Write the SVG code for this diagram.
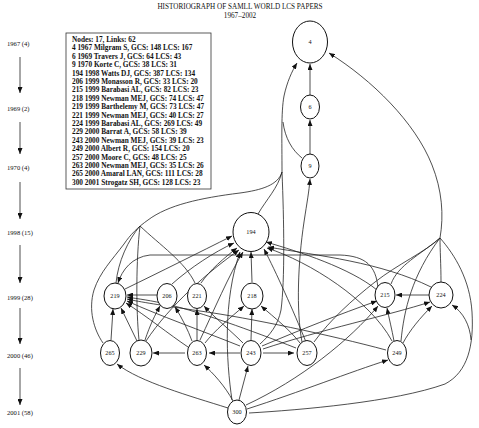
<svg xmlns="http://www.w3.org/2000/svg" width="479" height="428" viewBox="0 0 479 428">
<style>
text{font-family:"Liberation Serif","Times New Roman",serif;fill:#111}
.t{font-size:7.2px;text-anchor:middle}
.ax{font-size:6.6px}
.lg{font-size:7.3px;font-weight:bold}
.nd ellipse{fill:#fff;stroke:#111;stroke-width:1}
.nd text{font-size:6.2px;text-anchor:middle}
.e path{fill:none;stroke:#222;stroke-width:0.8}
.a{marker-end:url(#ah)}
</style>
<defs>
<marker id="ah" markerUnits="userSpaceOnUse" markerWidth="6" markerHeight="5" refX="6" refY="2.5" orient="auto">
<path d="M0,0 L6,2.5 L0,5 z" fill="#111"/>
</marker>
</defs>
<rect width="479" height="428" fill="#fff"/>
<text class="t" x="240" y="9">HISTORIOGRAPH OF SAMLL WORLD LCS PAPERS</text>
<text class="t" x="240" y="17.5">1967–2002</text>
<g id="axis">
<text class="ax" x="7" y="46">1967 (4)</text>
<text class="ax" x="7" y="111">1969 (2)</text>
<text class="ax" x="7" y="170">1970 (4)</text>
<text class="ax" x="7" y="235">1998 (15)</text>
<text class="ax" x="7" y="300">1999 (28)</text>
<text class="ax" x="7" y="358">2000 (46)</text>
<text class="ax" x="7" y="415">2001 (58)</text>
<g class="e">
<path class="a" d="M20,57 L20,93"/>
<path class="a" d="M20,122 L20,154"/>
<path class="a" d="M20,182 L20,219"/>
<path class="a" d="M20,245 L20,283"/>
<path class="a" d="M20,308 L20,344"/>
<path class="a" d="M20,368 L20,405"/>
</g>
</g>
<g id="legend">
<rect x="66" y="33" width="145" height="156" fill="#fff" stroke="#333" stroke-width="0.8"/>
<text class="lg" x="72" y="42">Nodes: 17, Links: 62</text>
<text class="lg" x="72" y="50.4">4 1967 Milgram S, GCS: 148 LCS: 167</text>
<text class="lg" x="72" y="58.8">6 1969 Travers J, GCS: 64 LCS: 43</text>
<text class="lg" x="72" y="67.2">9 1970 Korte C, GCS: 38 LCS: 31</text>
<text class="lg" x="72" y="75.6">194 1998 Watts DJ, GCS: 387 LCS: 134</text>
<text class="lg" x="72" y="84">206 1999 Monasson R, GCS: 33 LCS: 20</text>
<text class="lg" x="72" y="92.4">215 1999 Barabasi AL, GCS: 82 LCS: 23</text>
<text class="lg" x="72" y="100.8">218 1999 Newman MEJ, GCS: 74 LCS: 47</text>
<text class="lg" x="72" y="109.2">219 1999 Barthelemy M, GCS: 73 LCS: 47</text>
<text class="lg" x="72" y="117.6">221 1999 Newman MEJ, GCS: 40 LCS: 27</text>
<text class="lg" x="72" y="126">224 1999 Barabasi AL, GCS: 269 LCS: 49</text>
<text class="lg" x="72" y="134.4">229 2000 Barrat A, GCS: 58 LCS: 39</text>
<text class="lg" x="72" y="142.8">243 2000 Newman MEJ, GCS: 39 LCS: 23</text>
<text class="lg" x="72" y="151.2">249 2000 Albert R, GCS: 154 LCS: 20</text>
<text class="lg" x="72" y="159.6">257 2000 Moore C, GCS: 48 LCS: 25</text>
<text class="lg" x="72" y="168">263 2000 Newman MEJ, GCS: 35 LCS: 26</text>
<text class="lg" x="72" y="176.4">265 2000 Amaral LAN, GCS: 111 LCS: 28</text>
<text class="lg" x="72" y="184.8">300 2001 Strogatz SH, GCS: 128 LCS: 23</text>
</g>
<g id="connectors" class="e">
<path class="a" d="M310,95 L310,64"/>
<path class="a" d="M310,154 L310,120"/>
<path class="a" d="M282,172 C282,140 281,112 284,96 C287,82 292,71 297,63"/>
<path d="M302,158 C292,150 285,138 283,122"/>
<path d="M258,214 C266,200 278,188 282,172"/>
<path d="M282,172 C278,185 262,190 240,193 C200,198 168,205 148,220 C138,227 130,235 124,244"/>
<path d="M124,244 C112,260 100,272 94,290 C88,310 94,330 103,343"/>
<path d="M140,226 C128,240 118,262 116,283"/>
<path d="M140,226 C160,245 185,262 195,283"/>
<path d="M140,226 C136,260 136,310 139,340"/>
<path d="M282,172 C284,220 285,280 281,310 C278,325 270,335 260,344"/>
<path class="a" d="M440,238 C444,215 442,190 432,165 C415,122 372,80 329,53"/>
<path d="M441,282 C441,265 440,250 440,238"/>
<path d="M391,284 C398,265 420,255 440,238"/>
<path d="M314,342 C330,320 352,300 375,282 C398,264 425,252 440,238"/>
<path d="M401,341 C404,310 412,275 440,238"/>
<path d="M440,238 C455,255 470,280 472,312 C474,345 468,372 445,384 C395,402 300,410 249,413"/>
<path class="a" d="M471,340 C470,325 463,312 452,305"/>
<path class="a" d="M302,342 C296,310 298,262 304,222 C307,202 309,192 310,179"/>
<path class="a" d="M125,289 C160,272 200,252 232,236"/>
<path class="a" d="M172,284 C190,268 214,252 234,243"/>
<path class="a" d="M201,283 C210,270 224,258 237,248"/>
<path class="a" d="M252,282 L251,252"/>
<path class="a" d="M146,341 C170,305 208,272 239,250"/>
<path class="a" d="M200,340 C214,310 229,275 243,252"/>
<path class="a" d="M232,400 C226,360 223,300 240,252"/>
<path class="a" d="M377,290 C350,268 300,252 266,242"/>
<path class="a" d="M431,287 C380,262 320,256 268,247"/>
<path class="a" d="M392,341 C370,300 310,262 267,248"/>
<path class="a" d="M306,342 C293,310 276,272 264,249"/>
<path class="a" d="M378,288 C376,266 366,256 340,255 L150,255 C132,257 122,270 118,283"/>
<path class="a" d="M157,295 L127,295"/>
<path class="a" d="M111,340 L113,309"/>
<path class="a" d="M137,341 L121,308"/>
<path class="a" d="M188,347 C170,335 145,315 126,303"/>
<path class="a" d="M240,346 C200,330 160,316 127,301"/>
<path class="a" d="M386,350 C330,335 250,318 200,311 C160,305 140,302 127,299"/>
<path class="a" d="M296,348 C250,330 200,312 170,305 C150,300 138,299 127,297"/>
<path class="a" d="M145,340 C150,325 155,315 160,306"/>
<path class="a" d="M192,341 C188,330 182,318 175,307"/>
<path class="a" d="M197,340 L197,309"/>
<path class="a" d="M243,343 C230,330 215,318 204,306"/>
<path class="a" d="M205,343 C215,330 230,318 244,306"/>
<path class="a" d="M251,340 L252,309"/>
<path class="a" d="M300,343 C290,330 275,318 261,306"/>
<path class="a" d="M429,295 L396,295"/>
<path class="a" d="M262,346 C300,330 340,314 377,301"/>
<path class="a" d="M394,341 C392,330 389,318 387,308"/>
<path class="a" d="M246,405 C300,380 350,340 378,306"/>
<path class="a" d="M263,349 C320,330 390,315 430,302"/>
<path class="a" d="M403,343 C410,330 420,318 432,306"/>
<path class="a" d="M240,353 L209,353"/>
<path class="a" d="M185,353 L153,353"/>
<path class="a" d="M263,353 L294,353"/>
<path class="a" d="M228,408 C190,396 140,382 117,364"/>
<path class="a" d="M233,401 C225,386 213,373 204,365"/>
<path class="a" d="M239,400 L248,366"/>
<path class="a" d="M247,409 C300,392 350,372 388,360"/>
</g>
<g id="n4" class="nd"><ellipse cx="310" cy="42" rx="17.5" ry="21"/><text x="310" y="44">4</text></g>
<g id="n6" class="nd"><ellipse cx="310" cy="107" rx="9.5" ry="12"/><text x="310" y="109">6</text></g>
<g id="n9" class="nd"><ellipse cx="310" cy="166" rx="9" ry="12"/><text x="310" y="168">9</text></g>
<g id="n194" class="nd"><ellipse cx="251" cy="232" rx="18" ry="19.5"/><text x="251" y="234">194</text></g>
<g id="n219" class="nd"><ellipse cx="115" cy="296" rx="11" ry="13"/><text x="115" y="298">219</text></g>
<g id="n206" class="nd"><ellipse cx="167" cy="296" rx="10" ry="12.5"/><text x="167" y="298">206</text></g>
<g id="n221" class="nd"><ellipse cx="197" cy="296" rx="9.5" ry="12.5"/><text x="197" y="298">221</text></g>
<g id="n218" class="nd"><ellipse cx="252" cy="296" rx="11" ry="13"/><text x="252" y="298">218</text></g>
<g id="n215" class="nd"><ellipse cx="385" cy="295" rx="10" ry="12.5"/><text x="385" y="297">215</text></g>
<g id="n224" class="nd"><ellipse cx="441" cy="295" rx="12" ry="13"/><text x="441" y="297">224</text></g>
<g id="n265" class="nd"><ellipse cx="110" cy="353" rx="9.5" ry="12.5"/><text x="110" y="355">265</text></g>
<g id="n229" class="nd"><ellipse cx="141" cy="353" rx="11" ry="13"/><text x="141" y="355">229</text></g>
<g id="n263" class="nd"><ellipse cx="197" cy="353" rx="9.5" ry="12.5"/><text x="197" y="355">263</text></g>
<g id="n243" class="nd"><ellipse cx="251" cy="353" rx="10" ry="12.5"/><text x="251" y="355">243</text></g>
<g id="n257" class="nd"><ellipse cx="307" cy="353" rx="10" ry="12.5"/><text x="307" y="355">257</text></g>
<g id="n249" class="nd"><ellipse cx="397" cy="353" rx="9.5" ry="12.5"/><text x="397" y="355">249</text></g>
<g id="n300" class="nd"><ellipse cx="237" cy="412" rx="9.5" ry="12"/><text x="237" y="414">300</text></g>
</svg>
